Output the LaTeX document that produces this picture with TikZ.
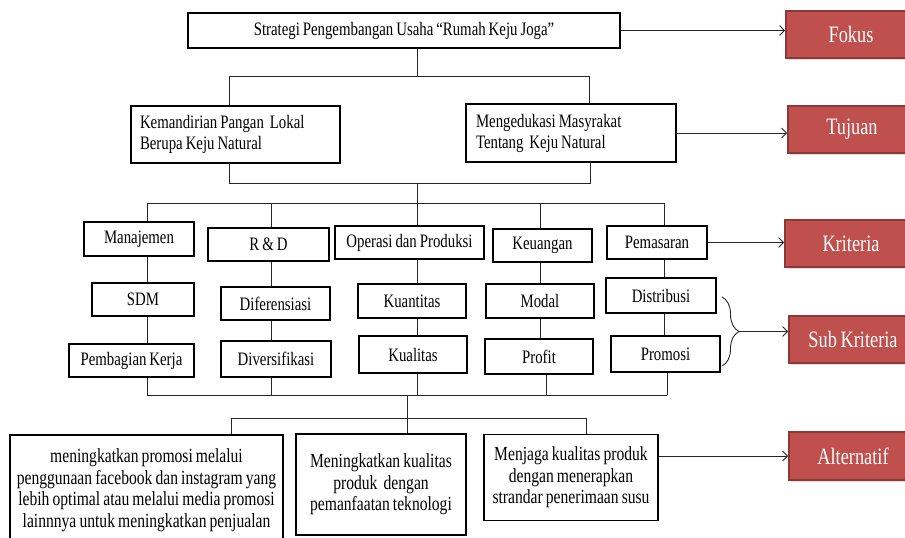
\documentclass[tikz,border=0pt]{standalone}
\usepackage{fontspec}
\setmainfont{Liberation Serif}[FakeStretch=0.78, WordSpace=0.8]
\usetikzlibrary{arrows.meta,decorations.pathreplacing,shadows}
\definecolor{lblred}{HTML}{C0504D}
\definecolor{lblborder}{HTML}{8C3836}
\begin{document}
\begin{tikzpicture}[x=1pt,y=-1pt,
  box/.style={draw=black, line width=1.1pt, fill=white, inner sep=2pt,
    font=\fontsize{19}{21}\selectfont, align=center},
  altbox/.style={box, inner xsep=4pt, align=flush center, font=\fontsize{20}{21.5}\selectfont},
  lbl/.style={fill=lblred, draw=lblborder, line width=1.6pt, text=white,
    font=\fontsize{23.5}{26}\selectfont,
    drop shadow={opacity=0.25, shadow xshift=1.5pt, shadow yshift=-1.5pt}},
  conn/.style={line width=0.9pt, draw=black!85},
  arr/.style={conn, -{Straight Barb[length=5pt,width=10pt]}}]
\useasboundingbox (0,0) rectangle (905,538);
\fill[white] (0,0) rectangle (905,538);

% goal level
\node[box, minimum width=432pt, minimum height=35pt] (top) at (404,30.5)
  {Strategi Pengembangan Usaha “Rumah Keju Joga”};
\node[box, text width=191pt, inner xsep=9pt, align=flush left, minimum height=57pt] (kem) at (235.5,134.5)
  {Kemandirian Pangan~~Lokal\\Berupa Keju Natural};
\node[box, text width=190pt, inner xsep=10pt, align=flush left, minimum height=58pt] (med) at (571,133)
  {Mengedukasi Masyrakat\\Tentang~~Keju Natural};

% criteria
\node[box, minimum width=110pt, minimum height=34pt] (man) at (139,239) {Manajemen};
\node[box, minimum width=121pt, minimum height=33pt] (rd) at (268.5,244.5) {R \& D};
\node[box, minimum width=149pt, minimum height=33pt] (op) at (409.5,242.5) {Operasi dan Produksi};
\node[box, minimum width=99pt, minimum height=33pt] (keu) at (542.5,245.5) {Keuangan};
\node[box, minimum width=100pt, minimum height=33pt] (pem) at (657,242.5) {Pemasaran};

% sub criteria row 1
\node[box, minimum width=102pt, minimum height=33pt] (sdm) at (143,299.5) {SDM};
\node[box, minimum width=109pt, minimum height=33pt] (dif) at (275.5,303.5) {Diferensiasi};
\node[box, minimum width=108pt, minimum height=34pt] (kuan) at (412,301) {Kuantitas};
\node[box, minimum width=108pt, minimum height=34pt] (mod) at (540,301) {Modal};
\node[box, minimum width=110pt, minimum height=35pt] (dist) at (661,295.5) {Distribusi};

% sub criteria row 2
\node[box, minimum width=125pt, minimum height=33pt] (pk) at (131.5,360.5) {Pembagian Kerja};
\node[box, minimum width=110pt, minimum height=36pt] (div) at (276,359) {Diversifikasi};
\node[box, minimum width=108pt, minimum height=37pt] (kual) at (413,354.5) {Kualitas};
\node[box, minimum width=108pt, minimum height=35pt] (prof) at (539,356.5) {Profit};
\node[box, minimum width=109pt, minimum height=36pt] (prom) at (665.5,354) {Promosi};

% alternatives
\node[altbox, text width=265pt, minimum height=110pt] (a1) at (146.5,490)
  {meningkatkan promosi melalui\\penggunaan facebook dan instagram yang\\lebih optimal atau melalui media promosi\\lainnnya untuk meningkatkan penjualan\par\vspace{12pt}};
\node[altbox, text width=162pt, minimum height=101pt] (a2) at (381,484.5)
  {Meningkatkan kualitas\\produk~~dengan\\pemanfaatan teknologi\par\vspace{14pt}};
\node[altbox, text width=166pt, minimum height=86pt] (a3) at (571,477.5)
  {Menjaga kualitas produk\\dengan menerapkan\\strandar penerimaan susu};

% level labels
\node[lbl, minimum width=130pt, minimum height=47pt] (fokus) at (851,34.5) {Fokus};
\node[lbl, minimum width=128pt, minimum height=47pt] (tujuan) at (852,129.5) {Tujuan};
\node[lbl, minimum width=132pt, minimum height=47pt] (krit) at (851,243.5) {Kriteria};
\node[lbl, minimum width=128pt, minimum height=47pt] (sub) at (853,339.5) {Sub Kriteria};
\node[lbl, minimum width=128pt, minimum height=48pt] (alt) at (853,456) {Alternatif};

% junction coordinates
\coordinate (h1l) at (229,76);  \coordinate (h1m) at (417,76);  \coordinate (h1r) at (589,76);
\coordinate (h2l) at (229,183); \coordinate (h2m) at (417,183); \coordinate (h2r) at (590,183);
\coordinate (h3a) at (147,203); \coordinate (h3b) at (271,203); \coordinate (h3c) at (417,203);
\coordinate (h3d) at (540,203); \coordinate (h3e) at (664,203);
\coordinate (h4a) at (147,395); \coordinate (h4b) at (271,395); \coordinate (h4c) at (417,395);
\coordinate (h4d) at (546,395); \coordinate (h4e) at (667,395);
\coordinate (h4m) at (407,395);
\coordinate (h5l) at (231,418); \coordinate (h5m) at (407,418); \coordinate (h5r) at (586,418);

% tree connectors
\draw[conn] (top.south -| h1m) -- (h1m);
\draw[conn] (kem.north -| h1l) -- (h1l) -- (h1r) -- (med.north -| h1r);
\draw[conn] (kem.south -| h2l) -- (h2l) -- (h2r) -- (med.south -| h2r);
\draw[conn] (h2m) -- (h3c);
\draw[conn] (h3a) -- (h3e);

\draw[conn] (h3a) -- (man.north -| h3a) (man.south -| h3a) -- (sdm.north -| h3a)
  (sdm.south -| h3a) -- (pk.north -| h3a) (pk.south -| h3a) -- (h4a);
\draw[conn] (h3b) -- (rd.north -| h3b) (rd.south -| h3b) -- (dif.north -| h3b)
  (dif.south -| h3b) -- (div.north -| h3b) (div.south -| h4b) -- (h4b);
\draw[conn] (h3c) -- (op.north -| h3c) (op.south -| h3c) -- (kuan.north -| h3c)
  (kuan.south -| h3c) -- (kual.north -| h3c) (kual.south -| h4c) -- (h4c);
\draw[conn] (h3d) -- (keu.north -| h3d) (keu.south -| h3d) -- (mod.north -| h3d)
  (mod.south -| h3d) -- (prof.north -| h3d) (prof.south -| h4d) -- (h4d);
\draw[conn] (h3e) -- (pem.north -| h3e) (pem.south -| h3e) -- (dist.north -| h3e)
  (dist.south -| h3e) -- (prom.north -| h3e) (prom.south -| h4e) -- (h4e);

\draw[conn] (h4a) -- (h4e);
\draw[conn] (h4m) -- (h5m);
\draw[conn] (a1.north -| h5l) -- (h5l) -- (h5r) -- (a3.north -| h5r);
\draw[conn] (h5m) -- (a2.north -| h5m);

% brace
\coordinate (br1) at (722,297);
\coordinate (br2) at (722,366);
\coordinate (bt) at (739,331.5);
\draw[conn, decorate, decoration={brace, amplitude=17pt, aspect=0.5}] (br1) -- (br2);

% arrows to level labels
\draw[arr] (top.east) -- (top.east -| fokus.west);
\draw[arr] (med.east) -- (med.east -| tujuan.west);
\draw[arr] (pem.east) -- (pem.east -| krit.west);
\draw[arr] (bt) -- (bt -| sub.west);
\draw[arr] (a3.east |- alt.west) -- (alt.west);
\end{tikzpicture}
\end{document}
